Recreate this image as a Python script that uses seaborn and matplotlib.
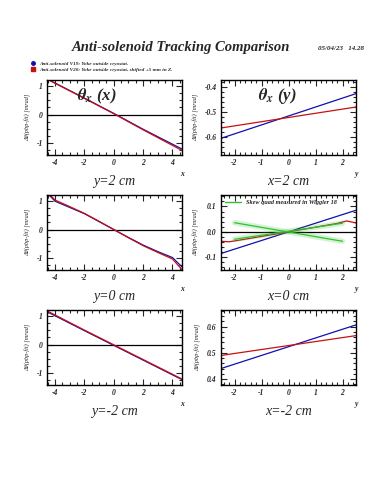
import matplotlib
matplotlib.use("Agg")
import matplotlib.pyplot as plt
import seaborn as sns
from matplotlib.lines import Line2D
from matplotlib.ticker import MultipleLocator

# ---- data ----
x_left = [-4.55, -2, 0, 2, 4.65]
tl_blue = [1.26, 0.58, 0.04, -0.52, -1.22]
tl_red = [1.25, 0.57, 0.03, -0.54, -1.27]

x_left_mid = [-4.55, -4, -3, -2, -1, 0, 1, 2, 3, 4, 4.65]
ml_blue = [1.30, 1.00, 0.78, 0.56, 0.28, 0.0, -0.28, -0.55, -0.78, -0.99, -1.32]
ml_red = [1.33, 1.04, 0.81, 0.57, 0.29, 0.0, -0.29, -0.57, -0.81, -1.04, -1.42]

bl_blue = [1.16, 0.49, -0.03, -0.55, -1.24]
bl_red = [1.19, 0.51, -0.01, -0.53, -1.22]

x_right = [-2.5, 2.5]
tr_blue = [-0.604, -0.427]
tr_red = [-0.563, -0.480]

mr_blue = [-0.085, 0.085]
x_mr_red = [-2.5, -2.2, -1.9, 0, 1.8, 2.15, 2.5]
mr_red = [-0.037, -0.039, -0.034, 0.0, 0.033, 0.043, 0.035]
x_green = [-2.0, 2.0]
green_a = [0.036, -0.037]
green_b = [-0.029, 0.034]

br_blue = [0.440, 0.607]
br_red = [0.490, 0.566]

left_labels = ["y=2 cm", "y=0 cm", "y=-2 cm"]
right_labels = ["x=2 cm", "x=0 cm", "x=-2 cm"]
legend_texts = [
    "Anti-solenoid V19: Yoke outside cryostat.",
    "Anti-solenoid V20: Yoke outside cryostat, shifted +5 mm in Z.",
]
ylabel_text = "Δθ(pbp-fit) [mrad]"

BLUE = "#1010b0"
RED = "#c81010"
GREEN = "#30c030"

sns.set_style("ticks")
plt.rcParams["font.family"] = ["Liberation Serif", "DejaVu Serif"]
plt.rcParams["font.style"] = "italic"
plt.rcParams["font.weight"] = "bold"
plt.rcParams["axes.unicode_minus"] = False
plt.rcParams["mathtext.fontset"] = "stix"

fig = plt.figure(figsize=(3.75, 5.0), dpi=100)

W, H = 375.0, 500.0
col_x = [47, 221]
row_y = [80, 195, 310]
pw, ph = 135, 75


def make_ax(col, row):
    x0 = col_x[col] / W
    y0 = 1 - (row_y[row] + ph) / H
    return fig.add_axes([x0, y0, pw / W, ph / H])


def style(ax, xmaj, xmin, ymaj, ymin, axis_letter, bottom_label):
    ax.xaxis.set_major_locator(MultipleLocator(xmaj))
    ax.xaxis.set_minor_locator(MultipleLocator(xmin))
    ax.yaxis.set_major_locator(MultipleLocator(ymaj))
    ax.yaxis.set_minor_locator(MultipleLocator(ymin))
    ax.tick_params(which="both", direction="in", top=True, right=True,
                   width=0.8, labelsize=5.5, pad=3)
    ax.tick_params(which="major", length=4.5)
    ax.tick_params(which="minor", length=2.5)
    for s in ax.spines.values():
        s.set_linewidth(1.0)
        s.set_color("black")
    ax.set_xlabel("")
    ax.set_ylabel(ylabel_text, fontsize=4.5, labelpad=4, fontweight="normal")
    ax.text(1.0, -0.2, axis_letter, transform=ax.transAxes, fontsize=5.5,
            ha="center", va="top")
    ax.text(0.5, -0.27, bottom_label, transform=ax.transAxes, fontsize=10,
            fontweight="normal", ha="center", va="top")


def draw(ax, x, y, color, lw=0.9):
    sns.lineplot(x=x, y=y, ax=ax, color=color, lw=lw, legend=False, sort=False)


# left column
left_sets = [
    (x_left, tl_blue, tl_red),
    (x_left_mid, ml_blue, ml_red),
    (x_left, bl_blue, bl_red),
]
left_axes = []
for r, (xs, yb, yr) in enumerate(left_sets):
    ax = make_ax(0, r)
    ax.axhline(0, color="black", lw=0.9)
    draw(ax, xs, yb, BLUE)
    draw(ax, xs, yr, RED)
    ax.set_xlim(-4.55, 4.65)
    ax.set_ylim(-1.43, 1.22)
    style(ax, 2, 0.5, 1, 0.25, "x", left_labels[r])
    left_axes.append(ax)

# right column
axr = make_ax(1, 0)
draw(axr, x_right, tr_blue, BLUE)
draw(axr, x_right, tr_red, RED)
axr.set_xlim(-2.5, 2.5)
axr.set_ylim(-0.67, -0.373)
style(axr, 1, 0.2, 0.1, 0.02, "y", right_labels[0])

axm = make_ax(1, 1)
axm.axhline(0, color="black", lw=0.9)
draw(axm, x_right, mr_blue, BLUE)
draw(axm, x_mr_red, mr_red, RED)
for g in (green_a, green_b):
    sns.lineplot(x=x_green, y=g, ax=axm, color=GREEN, lw=4.0, alpha=0.2,
                 legend=False)
draw(axm, x_green, green_a, GREEN)
draw(axm, x_green, green_b, GREEN)
axm.set_xlim(-2.5, 2.5)
axm.set_ylim(-0.15, 0.145)
style(axm, 1, 0.2, 0.1, 0.02, "y", right_labels[1])
handles = [Line2D([], [], color=GREEN, lw=1.0)]
axm.legend(handles, ["Skew quad measured in Wiggler 18"], loc="upper left",
           frameon=False, fontsize=4.5, handlelength=2.5,
           borderaxespad=0.3, handletextpad=0.8)

axb = make_ax(1, 2)
draw(axb, x_right, br_blue, BLUE)
draw(axb, x_right, br_red, RED)
axb.set_xlim(-2.5, 2.5)
axb.set_ylim(0.377, 0.664)
style(axb, 1, 0.2, 0.1, 0.02, "y", right_labels[2])

# panel titles
left_axes[0].text(0.37, 0.78, r"$\mathbf{\theta}_{x}$ (x)", transform=left_axes[0].transAxes,
                  fontsize=12, ha="center", va="center")
axr.text(0.42, 0.78, r"$\mathbf{\theta}_{x}$ (y)", transform=axr.transAxes,
         fontsize=12, ha="center", va="center")

# figure title, date, legend
fig.text(181 / W, 1 - 48 / H, "Anti-solenoid Tracking Comparison", fontsize=10.5,
         ha="center", va="center")
fig.text(341 / W, 1 - 48 / H, "05/04/23   14.28", fontsize=5,
         ha="center", va="center")

leg_handles = [
    Line2D([], [], marker="o", color=BLUE, ls="none", markersize=2.5),
    Line2D([], [], marker="s", color=RED, ls="none", markersize=2.5),
]
fig.legend(leg_handles, legend_texts, loc="upper left",
           bbox_to_anchor=(31 / W, 1 - 61 / H), frameon=False,
           fontsize=3.8, handlelength=0.8, handletextpad=0.8,
           labelspacing=0.35, borderaxespad=0, borderpad=0)

fig.savefig("out.png", dpi=100)
